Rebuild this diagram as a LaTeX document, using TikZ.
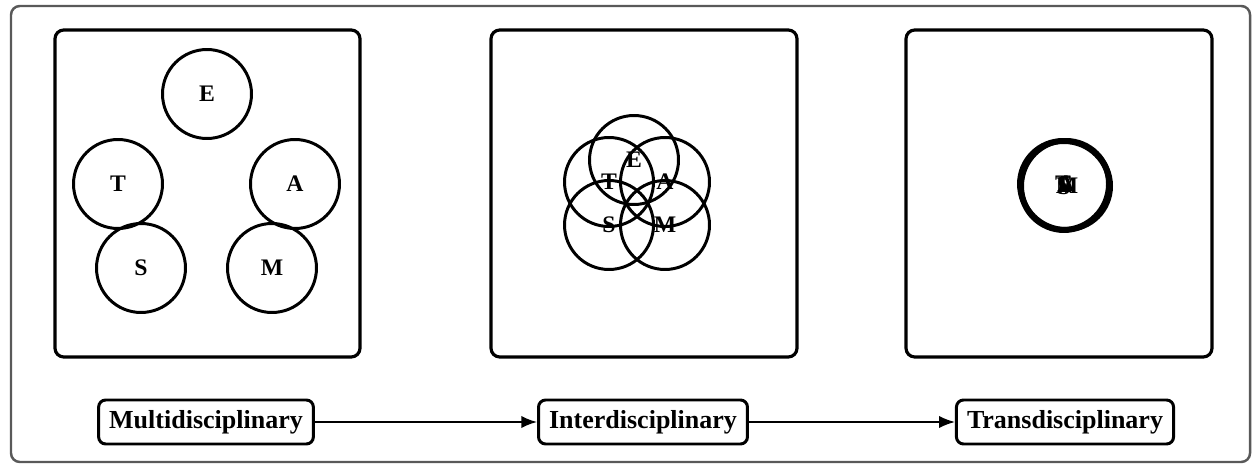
\documentclass[tikz,border=0pt]{standalone}
\usepackage{fontspec}
\setmainfont{Liberation Serif}
\usetikzlibrary{arrows.meta}
\tikzset{
  panel/.style={draw,line width=1.8pt,rounded corners=5pt},
  disc/.style={draw,circle,line width=1.7pt,minimum size=1.78cm,inner sep=0pt,font=\bfseries\fontsize{13.5}{13.5}\selectfont},
  stage/.style={draw,line width=1.7pt,rounded corners=4pt,minimum height=0.88cm,inner xsep=6pt,font=\bfseries\fontsize{14.8}{14.8}\selectfont},
}
\begin{document}
\begin{tikzpicture}[x=0.02cm,y=-0.02cm]
  \useasboundingbox (0,0) rectangle (1253,465);
  % outer frame
  \draw[gray!70!black,line width=1.4pt,rounded corners=5pt] (11,6) rectangle (1250,462);
  % three panels
  \draw[panel] (55,30) rectangle (360,357);
  \draw[panel] (491,30) rectangle (797,357);
  \draw[panel] (906,30) rectangle (1212,357);
  % multidisciplinary: separate circles
  \node[disc] (e1) at (207,94) {E};
  \node[disc] (t1) at (118,184) {T};
  \node[disc] (a1) at (295,184) {A};
  \node[disc] (s1) at (141,268) {S};
  \node[disc] (m1) at (272,268) {M};
  % interdisciplinary: overlapping circles
  \node[disc] (e2) at (634,160) {E};
  \node[disc] (t2) at (609,182) {T};
  \node[disc] (a2) at (665,182) {A};
  \node[disc] (s2) at (609,225) {S};
  \node[disc] (m2) at (665,225) {M};
  % transdisciplinary: circles on top of one another
  \node[disc] (t3) at (1063,184) {T};
  \node[disc] (e3) at (1065,185) {E};
  \node[disc] (s3) at (1064,187) {S};
  \node[disc] (a3) at (1066,184) {A};
  \node[disc] (m3) at (1067,186) {M};
  % stages
  \node[stage] (multi) at (206,422) {Multidisciplinary};
  \node[stage] (inter) at (643,422) {Interdisciplinary};
  \node[stage] (trans) at (1065,422) {Transdisciplinary};
  \draw[-{Latex[length=9pt,width=7pt]},line width=1pt] (multi) -- (inter);
  \draw[-{Latex[length=9pt,width=7pt]},line width=1pt] (inter) -- (trans);
\end{tikzpicture}
\end{document}
